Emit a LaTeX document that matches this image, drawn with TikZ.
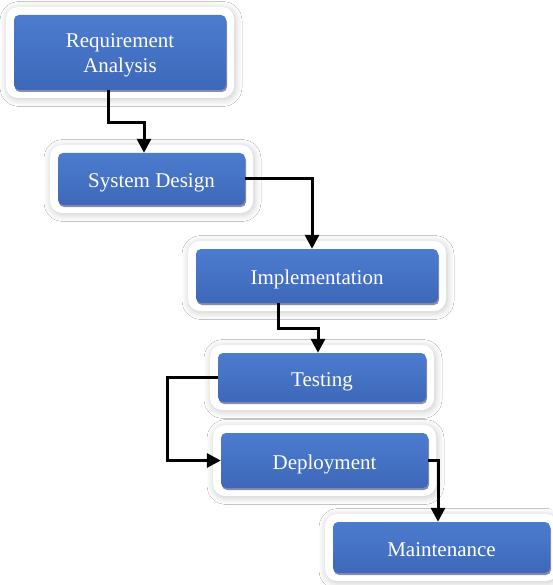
\documentclass[tikz,border=0pt]{standalone}
\usepackage{fontspec}
\setmainfont{Liberation Serif}
\usetikzlibrary{arrows.meta,shadows,shadows.blur}

\definecolor{stagetop}{RGB}{76,124,206}
\definecolor{stagebot}{RGB}{62,104,186}

\tikzset{
  frame/.style={rounded corners=12pt, fill=white, draw=none,
    blur shadow={shadow xshift=1pt, shadow yshift=-1.5pt,
      shadow blur radius=7pt, shadow blur steps=12, shadow opacity=22}},
  stage/.style={rounded corners=5pt, top color=stagetop, bottom color=stagebot,
    draw=none, text=white, align=center, inner sep=0pt,
    font=\fontsize{21}{25.5}\selectfont,
    drop shadow={shadow xshift=1pt, shadow yshift=-2pt, fill=black!75!blue, opacity=0.45}},
  oneline/.style={text height=17pt, text depth=0pt},
  flow/.style={line width=3pt, -{Triangle[length=14pt,width=14pt]}}
}

% one stage: white mount behind a blue box
\newcommand{\stagebox}[6][oneline]{%
  \node[frame, minimum width=#4pt+16pt, minimum height=#5pt+16pt] (#2f) at (#3) {};
  \node[stage, #1, minimum width=#4pt, minimum height=#5pt] (#2) at (#3) {#6};
}

\begin{document}
\begin{tikzpicture}[x=1pt, y=-1pt]
  \useasboundingbox[fill=white] (0,0) rectangle (552,585);

  \stagebox[text height=43pt, text depth=2pt]{req}{120,52.5}{212}{75}{Requirement\\Analysis}
  \stagebox{des}{151.5,179}{187}{52}{System Design}
  \stagebox{imp}{317,276}{242}{54}{Implementation}
  \stagebox{tst}{322,377.5}{208}{49}{Testing}
  \stagebox{dep}{324.5,460.5}{207}{55}{Deployment}
  \stagebox{mnt}{441.5,547.5}{217}{51}{Maintenance}

  \draw[flow] ([xshift=-12pt]req.south) -- ++(0,32) -| ([xshift=-7.5pt]des.north);
  \draw[flow] (des.east) -| ([xshift=-5pt]imp.north);
  \draw[flow] ([xshift=-39pt]imp.south) -- ++(0,25) -| ([xshift=-4pt]tst.north);
  \draw[flow] (tst.west) -- ++(-50,0) |- (dep.west);
  \draw[flow] (dep.east) -| ([xshift=-3.5pt]mnt.north);
\end{tikzpicture}
\end{document}
